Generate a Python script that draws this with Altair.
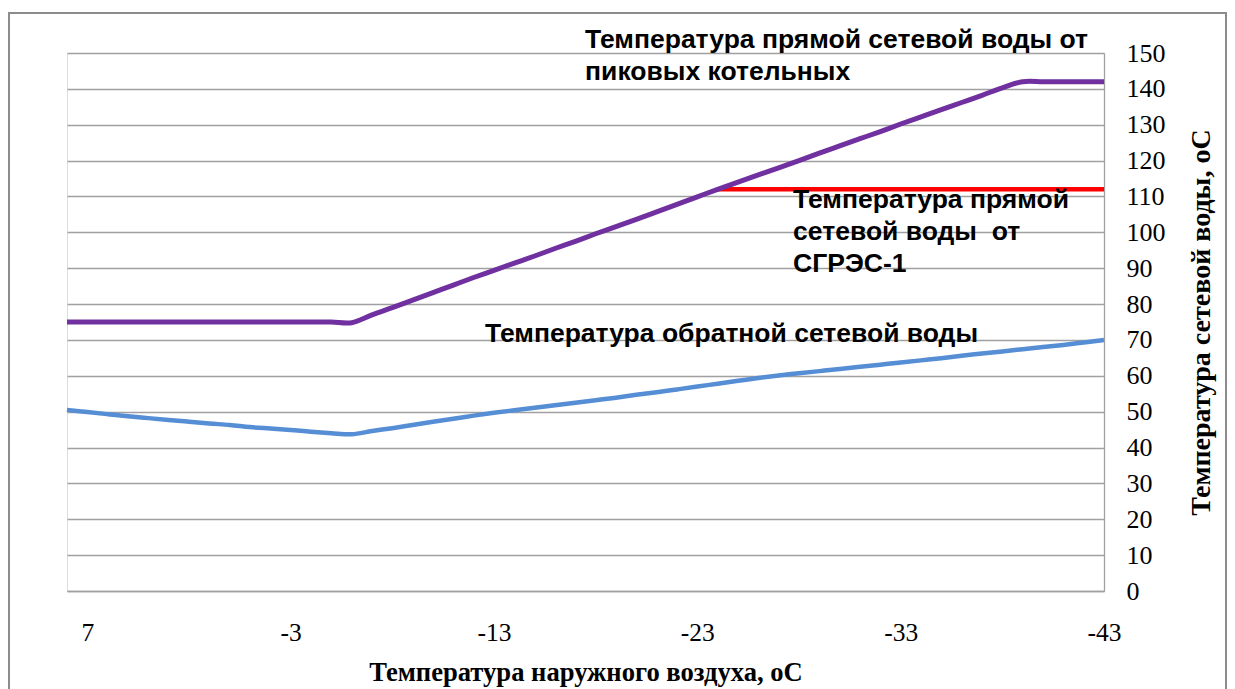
import altair as alt
import pandas as pd

# Outdoor air temperature (x categories), deg C
outdoor = [8, 7, 6, 5, 4, 3, 2, 1, 0, -1, -2, -3, -4, -5, -6, -7, -8, -9, -10,
           -11, -12, -13, -14, -15, -16, -17, -18, -19, -20, -21, -22, -23, -24,
           -25, -26, -27, -28, -29, -30, -31, -32, -33, -34, -35, -36, -37, -38,
           -39, -40, -41, -42, -43]

# Supply water temperature from peak boilers
supply_peak = [75, 75, 75, 75, 75, 75, 75, 75, 75, 75, 75, 75, 75, 75, 74.8,
               77, 79, 81.1, 83.2, 85.3, 87.4, 89.4, 91.4, 93.4, 95.5, 97.5,
               99.6, 101.6, 103.6, 105.7, 107.8, 109.9, 112.0, 114.0, 116.0,
               118.0, 120.0, 122.1, 124.1, 126.1, 128.1, 130.2, 132.2, 134.2,
               136.2, 138.2, 140.3, 142.0, 142, 142, 142, 142]

# Supply water temperature from SGRES-1 (only at the cold end)
sgres_outdoor = [-24, -25, -26, -27, -28, -29, -30, -31, -32, -33, -34, -35,
                 -36, -37, -38, -39, -40, -41, -42, -43]
sgres_supply = [112, 112, 112, 112, 112, 112, 112, 112, 112, 112, 112, 112,
                112, 112, 112, 112, 112, 112, 112, 112]

# Return water temperature
return_water = [50.5, 49.9, 49.3, 48.7, 48.2, 47.7, 47.2, 46.7, 46.3, 45.7,
                45.3, 44.9, 44.4, 44.0, 43.7, 44.6, 45.4, 46.3, 47.2, 48.0,
                48.9, 49.7, 50.4, 51.1, 51.8, 52.5, 53.2, 53.9, 54.7, 55.4,
                56.2, 57.0, 57.8, 58.6, 59.4, 60.1, 60.7, 61.3, 61.9, 62.5,
                63.1, 63.7, 64.3, 64.9, 65.6, 66.2, 66.8, 67.4, 68.0, 68.6,
                69.3, 70.0]

x_ticks = [7, -3, -13, -23, -33, -43]
y_ticks = [0, 10, 20, 30, 40, 50, 60, 70, 80, 90, 100, 110, 120, 130, 140, 150]

labels = [
    "Температура прямой сетевой воды от\nпиковых котельных",
    "Температура прямой\nсетевой воды\u00a0 от\nСГРЭС-1",
    "Температура обратной сетевой воды",
]
label_t = [-17.48, -27.71, -12.56]
label_v = [151.3, 106.7, 69.5]

GRID = "#A0A0A0"
SERIF = "Liberation Serif"
SANS = "Liberation Sans"

W, H = 1037, 538

df_peak = pd.DataFrame({"t": outdoor, "v": supply_peak})
df_sgres = pd.DataFrame({"t": sgres_outdoor, "v": sgres_supply})
df_ret = pd.DataFrame({"t": outdoor, "v": return_water})
df_lab = pd.DataFrame({"t": label_t, "v": label_v, "label": labels})

x_enc = alt.X(
    "t:Q",
    scale=alt.Scale(domain=[-43, 8], reverse=True, nice=False, zero=False),
    axis=alt.Axis(
        values=x_ticks, grid=False, ticks=False, tickSize=0,
        domainColor=GRID, domainWidth=1.3,
        labelExpr="'' + datum.value",
        labelFont=SERIF, labelFontSize=25.5, labelColor="black",
        labelPadding=41, labelBaseline="middle", labelFlush=False,
        labelOverlap=False,
        title="Температура наружного воздуха, оС",
        titleFont=SERIF, titleFontSize=26.6, titleFontWeight="bold",
        titleColor="black", titleX=W / 2, titleY=89,
        titleAlign="center", titleBaseline="alphabetic",
    ),
)
y_enc = alt.Y(
    "v:Q",
    scale=alt.Scale(domain=[0, 150], nice=False, zero=True),
    axis=alt.Axis(
        orient="right", values=y_ticks, grid=True, gridColor=GRID,
        gridWidth=1.3, ticks=False, tickSize=0,
        domainColor=GRID, domainWidth=1.3,
        labelFont=SERIF, labelFontSize=26, labelColor="black",
        labelPadding=22, labelBaseline="middle", labelAlign="left",
        labelFlush=False, labelOverlap=False,
        title="Температура сетевой воды, оС",
        titleFont=SERIF, titleFontSize=28, titleFontWeight="bold",
        titleColor="black", titleAngle=270, titleX=105, titleY=H / 2,
        titleAlign="center", titleBaseline="alphabetic",
    ),
)

frame = alt.Chart(pd.DataFrame({"k": [0]})).mark_rect(
    fill="transparent", stroke="#8C8C8C", strokeWidth=2
).encode(
    x=alt.value(-58), x2=alt.value(1159), y=alt.value(-40), y2=alt.value(700)
)

ret_line = alt.Chart(df_ret).mark_line(
    color="#558ED5", strokeWidth=4.5, interpolate="catmull-rom"
).encode(x=x_enc, y=y_enc)

sgres_line = alt.Chart(df_sgres).mark_line(
    color="#FF0000", strokeWidth=4.5, interpolate="catmull-rom"
).encode(x=x_enc, y=y_enc)

peak_line = alt.Chart(df_peak).mark_line(
    color="#7030A0", strokeWidth=5, interpolate="catmull-rom"
).encode(x=x_enc, y=y_enc)

texts = alt.Chart(df_lab).mark_text(
    align="left", baseline="alphabetic", font=SANS, fontWeight="bold",
    fontSize=26.5, lineHeight=32, lineBreak="\n", color="black"
).encode(x=x_enc, y=y_enc, text="label:N")

chart = alt.layer(frame, ret_line, sgres_line, peak_line, texts).properties(
    width=W, height=H,
    autosize=alt.AutoSizeParams(type="none"),
    padding={"left": 59, "top": 45, "right": 123, "bottom": 98},
).configure_view(stroke="transparent").configure(background="white")

chart.save("out.html", embed_options={"renderer": "svg", "actions": False})
